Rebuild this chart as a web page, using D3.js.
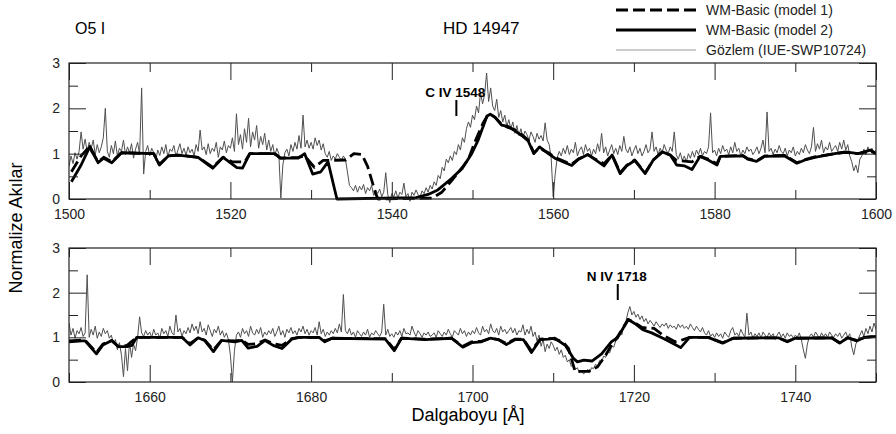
<!DOCTYPE html>
<meta charset="utf-8">
<body style="margin:0;background:#fff">
<script src="https://d3js.org/d3.v7.min.js"></script>
<script>

// gozlem verisi: 0.25 A adimla okunan akilar
var obsTopStart = 1500, obsBotStart = 1650, obsStep = 0.25;

var obsTop = [
  0.72,0.95,0.78,1.02,0.88,1.05,1.48,1.10,1.32,1.05,1.25,1.12,1.30,0.98,1.20,1.02,1.15,1.35,2.00,1.05,
  0.92,1.18,1.00,1.28,0.95,1.12,1.05,1.30,0.98,1.15,1.02,1.22,0.90,1.10,1.25,0.98,2.45,0.55,1.05,1.18,
  0.95,1.12,1.02,0.85,1.08,0.96,1.15,1.00,1.20,0.92,1.10,1.05,1.18,0.94,1.08,1.22,1.00,1.12,0.96,1.15,
  1.02,1.10,0.95,1.20,1.05,1.52,1.08,1.15,0.98,1.22,1.00,1.12,1.05,1.25,0.92,1.15,1.08,1.28,1.02,1.18,
  1.12,1.35,1.05,1.88,1.20,1.42,1.10,1.55,1.25,1.78,1.15,1.48,1.30,1.62,1.12,1.38,1.20,1.45,1.08,1.30,
  1.05,1.20,0.95,1.12,1.00,0.02,0.75,1.02,1.10,0.95,1.20,1.05,1.25,1.10,1.40,1.12,1.85,1.15,1.30,1.12,
  1.25,1.10,1.35,1.18,1.30,1.08,1.22,1.00,0.92,1.05,0.85,0.95,0.88,1.00,0.92,0.85,0.95,0.88,0.60,0.30,
  0.25,0.18,0.30,0.15,0.28,0.20,0.32,0.12,0.25,0.18,0.30,0.08,0.20,0.12,0.22,0.05,0.15,0.58,0.10,-0.08,
  0.12,0.05,0.18,0.02,0.15,0.10,0.35,0.05,0.12,-0.05,0.15,0.08,0.20,0.10,0.05,0.18,0.12,0.25,0.15,0.30,
  0.22,0.38,0.30,0.52,0.45,0.70,0.62,0.88,0.80,0.95,0.85,1.05,0.98,1.20,1.08,1.35,1.25,1.55,1.70,1.58,
  1.85,1.75,2.05,1.90,2.35,2.10,2.30,2.78,2.15,2.45,2.05,1.95,2.20,1.80,1.95,1.70,1.85,1.60,1.75,1.55,
  1.70,1.45,1.62,1.40,1.55,1.35,1.50,1.42,1.30,1.48,1.38,1.25,1.45,1.32,1.40,1.28,1.68,1.30,1.20,0.90,
  0.05,0.55,0.92,1.05,0.95,1.12,1.00,1.18,0.98,1.10,1.02,1.25,0.95,1.08,1.15,0.98,1.20,1.05,1.12,0.95,
  1.10,1.00,1.22,1.05,1.45,1.02,1.15,0.95,1.08,1.20,1.00,1.12,0.98,1.18,1.05,1.38,1.10,1.02,1.15,0.95,
  1.08,1.18,1.00,1.12,0.95,1.05,1.20,1.02,1.10,1.48,1.05,1.15,0.98,1.12,1.02,1.20,1.08,1.00,1.15,1.05,
  1.48,0.98,0.88,1.02,0.85,0.95,0.82,1.00,0.90,1.05,0.92,1.08,0.98,1.12,0.95,1.05,1.00,1.15,1.90,1.02,
  1.08,0.95,1.12,1.00,1.18,1.05,1.10,0.98,1.15,1.02,1.25,1.05,1.12,0.95,1.08,1.00,1.15,1.05,1.10,0.98,
  1.05,1.15,1.00,1.12,1.30,1.02,1.92,1.05,1.12,0.98,1.10,1.02,1.18,1.05,1.00,1.12,0.95,1.08,1.02,1.15,
  0.95,1.05,0.98,1.12,1.02,1.20,1.08,1.00,1.15,1.58,1.05,1.22,1.10,1.30,1.02,1.15,1.08,1.25,1.05,1.12,
  1.18,1.05,1.25,1.10,1.30,1.08,1.20,0.95,0.82,0.62,0.75,0.58,0.88,0.95,1.10,0.98,1.15,1.05,1.12,1.02,
  1.08
];

var obsBot = [
  1.32,1.05,1.20,0.98,1.15,1.08,1.22,1.02,1.10,2.40,1.00,1.18,1.05,1.25,0.98,1.12,1.02,1.20,1.08,1.15,
  0.98,1.05,0.85,0.95,0.72,0.88,0.60,0.12,0.75,0.25,0.90,0.55,0.85,0.70,1.00,1.46,1.10,1.02,1.15,1.05,
  1.12,1.00,1.18,1.05,1.10,0.98,1.20,1.08,1.15,1.02,1.25,1.10,1.05,1.50,1.12,1.20,1.02,1.15,1.08,1.22,
  1.10,1.30,1.15,1.25,1.08,1.35,1.12,1.20,1.05,1.28,1.15,1.02,1.18,1.10,1.25,1.05,1.15,1.00,1.10,0.95,
  0.60,0.00,0.70,1.05,1.12,1.00,1.20,1.08,1.15,1.02,1.25,1.10,1.05,1.18,1.08,1.22,1.00,1.12,1.05,1.15,
  1.08,1.20,1.02,1.12,1.25,1.05,1.15,1.00,1.18,1.10,1.22,1.08,1.15,1.05,1.20,1.12,1.25,1.08,1.18,1.05,
  1.15,1.10,1.22,1.05,1.35,1.08,1.18,1.02,1.12,1.05,1.15,1.08,1.20,1.10,1.30,1.12,1.96,1.15,1.08,1.20,
  1.05,1.12,1.00,1.15,1.08,1.02,1.12,1.05,1.18,1.00,1.10,1.05,1.15,1.08,1.02,1.12,1.74,1.05,1.18,1.02,
  1.08,1.00,1.12,1.05,1.15,1.02,1.20,1.08,1.10,1.05,1.25,1.12,1.02,1.15,1.08,1.00,1.10,1.05,1.12,1.02,
  1.05,1.10,1.00,1.15,1.08,1.02,1.12,1.05,1.18,1.08,1.00,1.15,1.10,1.05,1.20,1.08,1.15,1.02,1.12,1.05,
  1.15,1.08,1.22,1.10,1.05,1.25,1.12,1.18,1.08,1.30,1.15,1.10,1.20,1.05,1.25,1.12,1.18,1.08,1.15,1.22,
  1.10,1.20,1.05,1.15,1.12,1.28,1.05,1.18,1.08,1.25,1.02,1.12,0.92,1.05,0.80,0.95,0.68,0.85,0.75,0.90,
  0.82,0.70,0.78,0.62,0.72,0.55,0.60,0.45,0.50,0.35,0.40,0.28,0.32,0.20,0.25,0.18,0.22,0.28,0.20,0.32,
  0.30,0.40,0.35,0.48,0.45,0.58,0.55,0.68,0.65,0.80,0.78,0.92,0.95,1.10,1.05,1.28,1.35,1.55,1.69,1.50,
  1.58,1.45,1.52,1.40,1.48,1.35,1.42,1.30,1.38,1.32,1.25,1.35,1.28,1.22,1.30,1.25,1.32,1.20,1.28,1.22,
  1.25,1.18,1.30,1.22,1.28,1.20,1.25,1.18,1.30,1.22,1.15,1.25,1.18,1.12,1.22,1.10,1.05,1.15,1.02,1.08,
  1.00,1.10,1.02,1.08,0.98,1.12,1.05,1.00,1.15,1.22,1.05,1.10,1.02,1.18,1.08,1.00,1.54,1.05,1.12,0.98,
  1.08,1.02,1.10,0.98,1.12,1.05,1.00,1.10,1.02,1.08,0.95,1.05,1.12,1.00,1.08,0.98,1.10,1.02,1.06,0.98,
  1.05,1.00,1.10,0.95,0.72,0.53,0.85,1.02,1.08,1.00,1.12,1.05,0.98,1.10,1.02,1.08,1.00,1.12,1.05,1.00,
  1.08,1.02,1.10,0.98,1.05,1.12,1.00,1.08,0.78,0.61,0.85,0.95,1.05,1.15,1.02,1.20,1.08,1.25,1.12,1.32,
  1.18
];

// WM-Basic modelleri: [dalgaboyu, aki]
var model1Top = [[1500.3,0.60],[1501.5,0.95],[1502.5,1.15],[1503.6,0.82],[1504.3,0.92],[1505.3,0.82],[1506.5,1.02],
  [1510.5,1.0],[1511.2,0.76],[1512.3,0.95],[1513.5,0.97],[1516.0,0.92],[1517.8,0.70],[1519.1,0.92],[1520.2,0.82],
  [1521.8,0.82],[1522.4,1.0],[1525.5,1.0],[1526.2,0.9],[1528.4,0.92],[1529.2,0.95],[1530.4,0.70],[1531.5,0.85],
  [1534.3,0.86],[1535.3,1.0],[1536.3,0.98],[1537.0,0.72],[1537.5,0.42],[1538.0,0.12],[1538.3,0.0],[1545.0,0.02],
  [1546.2,0.15],[1547.4,0.40],[1548.7,0.69],[1549.5,0.88],[1550.3,1.26],[1551.3,1.67],[1551.9,1.85],[1552.3,1.86],
  [1552.8,1.80],[1553.6,1.65],[1554.4,1.58],[1555.3,1.52],[1556.1,1.42],[1556.9,1.30],[1557.6,1.02],[1558.3,1.12],
  [1559.4,1.02],[1560.2,0.92],[1561.5,0.82],[1562.3,0.77],[1563.1,0.88],[1564.3,0.98],[1565.2,0.88],[1566.3,0.78],
  [1567.3,0.97],[1568.3,0.58],[1569.1,0.74],[1570.1,0.86],[1571.4,0.58],[1572.4,0.86],[1573.5,1.03],[1574.5,0.97],
  [1575.3,0.85],[1577.2,0.82],[1578.2,0.94],[1579.2,0.88],[1580.3,0.78],[1580.7,0.94],[1583.5,0.96],[1584.1,0.89],
  [1585.2,0.84],[1586.2,0.95],[1588.7,0.96],[1590.2,0.80],[1591.2,0.87],[1592.4,0.93],[1594.9,1.0],[1596.2,1.03],
  [1597.8,1.0],[1599.3,1.06],[1600,1.0]];

var model2Top = [[1500.3,0.38],[1501.5,0.75],[1502.6,1.16],[1503.6,0.80],[1504.3,0.90],[1505.3,0.80],[1506.5,1.02],
  [1510.5,1.00],[1511.2,0.75],[1512.3,0.95],[1513.5,0.97],[1516.0,0.92],[1517.8,0.68],[1519.1,0.92],[1520.8,0.69],
  [1521.5,0.68],[1522.4,1.00],[1525.5,1.00],[1526.2,0.90],[1528.4,0.90],[1529.2,1.00],[1530.2,0.55],[1531.2,0.60],
  [1532.1,0.82],[1533.2,0.0],[1543.0,0.03],[1544.5,0.10],[1545.7,0.20],[1547.4,0.45],[1548.7,0.67],[1549.9,1.00],
  [1550.7,1.30],[1551.8,1.83],[1552.2,1.87],[1552.8,1.80],[1553.6,1.63],[1554.4,1.60],[1555.3,1.50],[1556.1,1.40],
  [1556.9,1.28],[1557.6,1.00],[1558.3,1.15],[1559.4,1.00],[1560.2,0.90],[1561.5,0.80],[1562.3,0.74],[1563.1,0.87],
  [1564.3,0.98],[1565.2,0.87],[1566.3,0.73],[1567.3,0.97],[1568.3,0.56],[1569.1,0.73],[1570.1,0.85],[1571.4,0.56],
  [1572.4,0.86],[1573.5,1.04],[1574.5,0.97],[1575.3,0.75],[1576.3,0.73],[1577.2,0.65],[1578.2,0.94],[1579.2,0.86],
  [1580.3,0.75],[1580.7,0.94],[1583.5,0.95],[1584.1,0.88],[1585.2,0.83],[1586.2,0.94],[1588.7,0.95],[1590.2,0.79],
  [1591.2,0.86],[1592.4,0.92],[1594.9,1.0],[1596.2,1.04],[1597.8,1.0],[1599.3,1.08],[1600,1.0]];

var model1Bot = [[1650,0.92],[1651.6,0.94],[1652.0,0.93],[1653.4,0.66],[1654.2,0.85],[1655.3,0.93],[1656.1,0.80],
  [1657.2,0.82],[1658.4,1.0],[1664.0,1.0],[1665.0,0.86],[1666.0,0.99],[1666.8,0.94],[1667.9,0.72],[1668.9,0.93],
  [1670.6,0.92],[1671.4,0.94],[1672.2,0.84],[1673.3,0.86],[1674.3,0.94],[1675.3,0.86],[1676.4,0.82],[1677.6,0.97],
  [1678.5,1.0],[1681.0,1.0],[1681.7,0.92],[1682.6,0.98],[1689.2,0.97],[1690.3,0.73],[1691.2,0.98],[1694.1,0.96],
  [1697.4,0.98],[1698.8,0.80],[1699.9,0.90],[1701.1,0.91],[1702.2,0.98],[1703.2,0.95],[1704.2,0.86],[1705.3,0.96],
  [1706.3,0.96],[1707.3,0.70],[1708.4,0.96],[1709.4,0.97],[1710.0,0.97],[1711.2,0.90],[1711.9,0.75],[1712.7,0.24],
  [1714.4,0.24],[1715.5,0.34],[1716.5,0.60],[1717.2,0.82],[1718.0,1.02],[1719.3,1.40],[1720.1,1.33],[1721.0,1.22],
  [1722.5,1.20],[1723.6,1.05],[1725.1,0.90],[1725.8,0.93],[1726.9,1.0],[1729.2,1.0],[1731.0,0.88],[1732.3,0.98],
  [1737.9,0.99],[1739.0,0.91],[1740.0,0.98],[1744.5,0.99],[1745.5,0.88],[1746.5,0.99],[1747.6,0.93],[1748.6,1.0],
  [1750,1.02]];

var model2Bot = [[1650,0.90],[1651.6,0.92],[1652.0,0.92],[1653.4,0.63],[1654.2,0.83],[1655.3,0.93],[1656.1,0.79],
  [1657.2,0.79],[1657.8,0.82],[1658.4,1.0],[1664.0,1.0],[1665.0,0.83],[1666.0,0.99],[1666.8,0.93],[1667.9,0.68],
  [1668.9,0.93],[1670.6,0.90],[1671.4,0.93],[1672.2,0.76],[1673.3,0.80],[1674.3,0.93],[1675.3,0.82],[1676.4,0.75],
  [1677.6,0.96],[1678.5,1.0],[1681.0,1.0],[1681.7,0.90],[1682.6,0.98],[1689.2,0.96],[1690.3,0.70],[1691.2,0.98],
  [1694.1,0.95],[1697.4,0.98],[1698.8,0.78],[1699.9,0.88],[1701.1,0.90],[1702.2,0.98],[1703.2,0.95],[1704.2,0.84],
  [1705.3,0.95],[1706.3,0.95],[1707.3,0.66],[1708.4,0.95],[1709.4,0.96],[1710.2,0.98],[1711.5,0.82],[1712.5,0.53],
  [1713.0,0.45],[1713.8,0.49],[1714.8,0.47],[1716.0,0.63],[1717.2,0.90],[1718.0,1.0],[1719.3,1.40],[1720.1,1.31],
  [1721.1,1.17],[1722.2,1.10],[1723.6,0.98],[1725.1,0.84],[1725.8,0.77],[1726.9,1.0],[1729.2,1.0],[1731.0,0.87],
  [1732.3,0.98],[1737.9,0.99],[1739.0,0.90],[1740.0,0.98],[1744.5,0.99],[1745.5,0.87],[1746.5,0.99],[1747.6,0.92],
  [1748.6,1.0],[1750,1.02]];

var xMajorTop = [1500, 1520, 1540, 1560, 1580, 1600],
    xMinorTop = [1510, 1530, 1550, 1570, 1590],
    xMajorBot = [1660, 1680, 1700, 1720, 1740],
    xMinorBot = [1650, 1670, 1690, 1710, 1730, 1750],
    yMajor = [0, 1, 2, 3],
    yMinor = [0.5, 1.5, 2.5];

var legendLabels = ["WM-Basic (model 1)", "WM-Basic (model 2)", "Gözlem (IUE-SWP10724)"];

var width = 896, height = 434;
var left = 69, right = 876;
var font = "'Liberation Sans', Arial, sans-serif";

var svg = d3.select("body").append("svg")
    .attr("width", width)
    .attr("height", height)
    .style("font-family", font);

function drawPanel(id, top, bottom, domain, obs, obsStart, m1, m2, xMajor, xMinor, note) {
  var x = d3.scaleLinear().domain(domain).range([left, right]);
  var y = d3.scaleLinear().domain([0, 3]).range([bottom, top]);
  var g = svg.append("g");

  g.append("clipPath").attr("id", id)
    .append("rect")
      .attr("x", left).attr("y", top - 20)
      .attr("width", right - left).attr("height", bottom - top + 40);

  var plot = g.append("g").attr("clip-path", "url(#" + id + ")");

  var obsLine = d3.line()
      .x(function(d, i) { return x(obsStart + i * obsStep); })
      .y(function(d) { return y(d); });
  var modLine = d3.line()
      .x(function(d) { return x(d[0]); })
      .y(function(d) { return y(d[1]); });

  plot.append("path")
      .attr("d", obsLine(obs))
      .attr("fill", "none")
      .attr("stroke", "#505050")
      .attr("stroke-width", 1);

  plot.append("path")
      .attr("d", modLine(m1))
      .attr("fill", "none")
      .attr("stroke", "#000")
      .attr("stroke-width", 2.8)
      .attr("stroke-dasharray", "12,5")
      .attr("stroke-linejoin", "round");

  plot.append("path")
      .attr("d", modLine(m2))
      .attr("fill", "none")
      .attr("stroke", "#000")
      .attr("stroke-width", 2.8)
      .attr("stroke-linejoin", "round");

  // cerceve ve eksenler (ic tarafa bakan tikler)
  function style(a) {
    a.select(".domain").remove();
    a.selectAll("line").attr("stroke", "#222");
    a.selectAll("text").attr("fill", "#222").style("font-size", "14px").style("font-family", font);
  }
  g.append("g").attr("transform", "translate(0," + bottom + ")")
      .call(d3.axisBottom(x).tickValues(xMajor).tickSize(-17).tickPadding(10).tickFormat(d3.format("d")))
      .call(style);
  g.append("g").attr("transform", "translate(0," + bottom + ")")
      .call(d3.axisBottom(x).tickValues(xMinor).tickSize(-9).tickFormat(""))
      .call(style);
  g.append("g").attr("transform", "translate(0," + top + ")")
      .call(d3.axisTop(x).tickValues(xMajor).tickSize(-17).tickFormat(""))
      .call(style);
  g.append("g").attr("transform", "translate(0," + top + ")")
      .call(d3.axisTop(x).tickValues(xMinor).tickSize(-9).tickFormat(""))
      .call(style);
  g.append("g").attr("transform", "translate(" + left + ",0)")
      .call(d3.axisLeft(y).tickValues(yMajor).tickSize(-17).tickPadding(9).tickFormat(d3.format("d")))
      .call(style);
  g.append("g").attr("transform", "translate(" + left + ",0)")
      .call(d3.axisLeft(y).tickValues(yMinor).tickSize(-9).tickFormat(""))
      .call(style);
  g.append("g").attr("transform", "translate(" + right + ",0)")
      .call(d3.axisRight(y).tickValues(yMajor).tickSize(-17).tickFormat(""))
      .call(style);
  g.append("g").attr("transform", "translate(" + right + ",0)")
      .call(d3.axisRight(y).tickValues(yMinor).tickSize(-9).tickFormat(""))
      .call(style);

  g.append("rect")
      .attr("x", left).attr("y", top)
      .attr("width", right - left).attr("height", bottom - top)
      .attr("fill", "none")
      .attr("stroke", "#222")
      .attr("stroke-width", 1.2);

  // cizgi isaretleri
  g.append("text")
      .attr("x", x(note.wl) + note.dx)
      .attr("y", note.ty)
      .attr("text-anchor", "middle")
      .style("font-size", "13.5px")
      .style("font-weight", "bold")
      .text(note.label);
  g.append("line")
      .attr("x1", x(note.wl)).attr("x2", x(note.wl))
      .attr("y1", note.y1).attr("y2", note.y2)
      .attr("stroke", "#000")
      .attr("stroke-width", 2);
}

drawPanel("clipTop", 63, 199, [1500, 1600], obsTop, obsTopStart, model1Top, model2Top,
  xMajorTop, xMinorTop, {wl: 1548, label: "C IV 1548", dx: -1, ty: 97, y1: 100, y2: 116});
drawPanel("clipBot", 248, 382, [1650, 1750], obsBot, obsBotStart, model1Bot, model2Bot,
  xMajorBot, xMinorBot, {wl: 1718, label: "N IV 1718", dx: -1, ty: 281, y1: 284, y2: 300});

// basliklar
svg.append("text").attr("x", 75).attr("y", 34).style("font-size", "16px").text("O5 I");
svg.append("text").attr("x", 443).attr("y", 34).style("font-size", "17px").text("HD 14947");

svg.append("text")
    .attr("transform", "translate(22,228) rotate(-90)")
    .attr("text-anchor", "middle")
    .style("font-size", "18px")
    .text("Normalize Akılar");

svg.append("text")
    .attr("x", 468).attr("y", 421)
    .attr("text-anchor", "middle")
    .style("font-size", "18px")
    .text("Dalgaboyu [Å]");

// lejant
var legend = svg.append("g");
legendLabels.forEach(function(t, i) {
  var ly = 10 + i * 20;
  legend.append("line")
      .attr("x1", 616).attr("x2", 696)
      .attr("y1", ly).attr("y2", ly)
      .attr("stroke", i === 2 ? "#999" : "#000")
      .attr("stroke-width", i === 2 ? 1 : 2.8)
      .attr("stroke-dasharray", i === 0 ? "12,5" : null);
  legend.append("text")
      .attr("x", 706).attr("y", ly)
      .attr("dy", "0.35em")
      .attr("fill", "#222")
      .style("font-size", "14px")
      .text(t);
});

</script>
</body>
